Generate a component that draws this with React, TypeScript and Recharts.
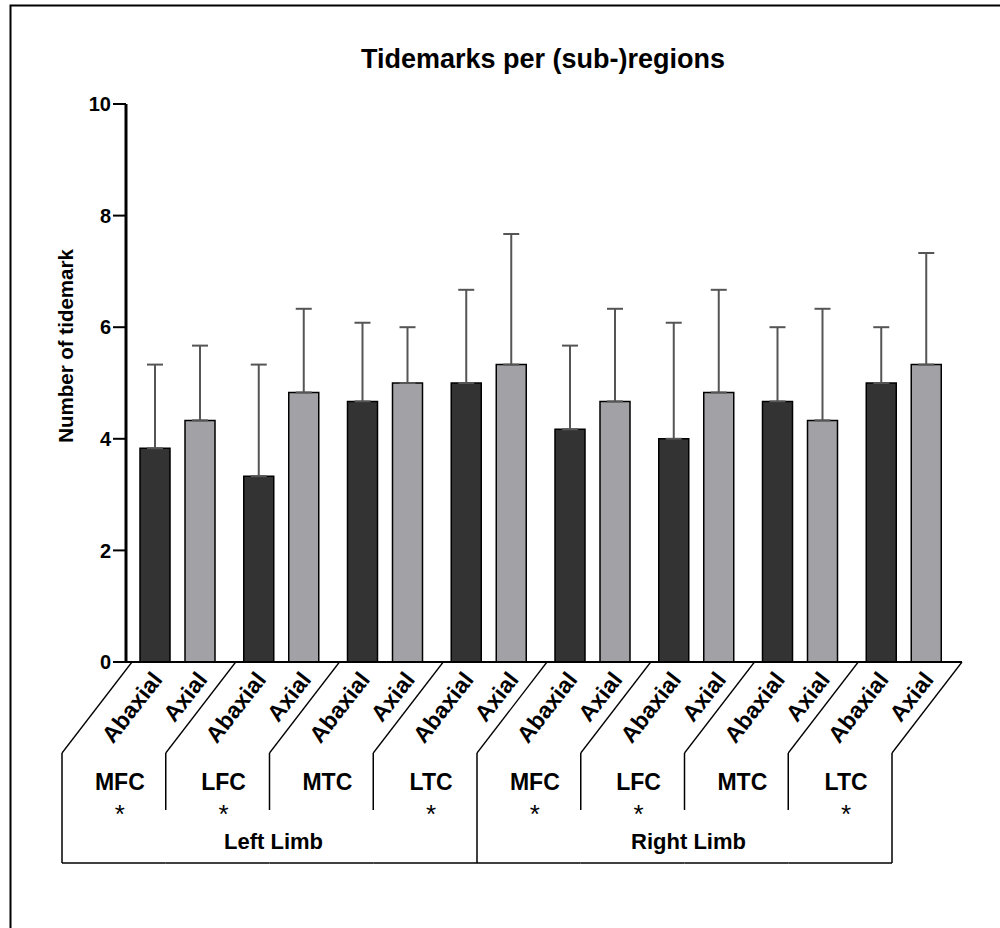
import { BarChart, Bar, XAxis, YAxis, ErrorBar } from "recharts";

// groups along the x axis (limb + region)
const groupKeys = ["L-MFC", "L-LFC", "L-MTC", "L-LTC", "R-MFC", "R-LFC", "R-MTC", "R-LTC"];
const regions = ["MFC", "LFC", "MTC", "LTC", "MFC", "LFC", "MTC", "LTC"];
const limbs = ["Left Limb", "Left Limb", "Left Limb", "Left Limb", "Right Limb", "Right Limb", "Right Limb", "Right Limb"];
const significant = [true, true, false, true, true, true, false, true];

// mean and SD (upper only) per group
const abaxialMean = [3.83, 3.33, 4.67, 5.0, 4.17, 4.0, 4.67, 5.0];
const abaxialSd = [1.5, 2.0, 1.41, 1.67, 1.5, 2.08, 1.33, 1.0];
const axialMean = [4.33, 4.83, 5.0, 5.33, 4.67, 4.83, 4.33, 5.33];
const axialSd = [1.34, 1.5, 1.0, 2.34, 1.66, 1.84, 2.0, 2.0];

const yTicks = [0, 2, 4, 6, 8, 10];

const data = groupKeys.map((key, i) => ({
  key,
  region: regions[i],
  limb: limbs[i],
  sig: significant[i],
  abaxial: abaxialMean[i],
  abaxialErr: [0, abaxialSd[i]],
  axial: axialMean[i],
  axialErr: [0, axialSd[i]],
}));

const W = 1000;
const H = 928;
const MARGIN = { top: 104, right: 44, bottom: 0, left: 46 };
const Y_W = 80;
const BAND = (W - MARGIN.left - MARGIN.right - Y_W) / data.length;
const FONT = "'Liberation Sans', Arial, sans-serif";

function GroupTick(props: any) {
  const { x, y, payload } = props;
  const i = payload.index;
  const d = data[i];
  const left = x - BAND / 2 + 6;
  const right = x + BAND / 2 + 6;
  const dx = 70;
  const dy = 91;
  const boxBottom = y + 201;
  const isLimbStart = i % 4 === 0;
  const isLast = i === data.length - 1;
  const abX = x - 22.5 + 8;
  const axX = x + 22.5 + 8;
  return (
    <g fontFamily={FONT} fontWeight="bold" fill="#000">
      <text x={abX} y={y + 18} fontSize={23} textAnchor="end" transform={`rotate(-52, ${abX}, ${y + 18})`}>
        Abaxial
      </text>
      <text x={axX} y={y + 18} fontSize={23} textAnchor="end" transform={`rotate(-52, ${axX}, ${y + 18})`}>
        Axial
      </text>
      <line x1={left} y1={y} x2={left - dx} y2={y + dy} stroke="#000" strokeWidth={1.3} />
      <line x1={left - dx} y1={y + dy} x2={left - dx} y2={isLimbStart ? boxBottom : y + 148} stroke="#000" strokeWidth={1.5} />
      <line x1={left - dx} y1={boxBottom} x2={right - dx} y2={boxBottom} stroke="#000" strokeWidth={1.5} />
      {isLast && (
        <>
          <line x1={x + BAND / 2 - 4} y1={y} x2={right} y2={y} stroke="#000" strokeWidth={2} />
          <line x1={right} y1={y} x2={right - dx} y2={y + dy} stroke="#000" strokeWidth={1.3} />
          <line x1={right - dx} y1={y + dy} x2={right - dx} y2={boxBottom} stroke="#000" strokeWidth={1.5} />
        </>
      )}
      <text x={x - 58} y={y + 128} fontSize={23} textAnchor="middle">
        {d.region}
      </text>
      {d.sig && (
        <text x={x - 58} y={y + 161} fontSize={26} textAnchor="middle" fontWeight="normal">
          *
        </text>
      )}
      {isLimbStart && (
        <text x={x + 1.5 * BAND - 60} y={y + 187} fontSize={22} textAnchor="middle">
          {d.limb}
        </text>
      )}
    </g>
  );
}

export default function App() {
  return (
    <div style={{ position: "absolute", left: 0, top: 0, background: "#fff" }}>
      <BarChart width={W} height={H} data={data} margin={MARGIN} barSize={30} barGap={15}>
        <path d={`M10.5 ${H} L10.5 5.5 L${W} 5.5`} fill="none" stroke="#000" strokeWidth={2} />
        <text x={543} y={68} textAnchor="middle" fontFamily={FONT} fontWeight="bold" fontSize={27} fill="#000">
          Tidemarks per (sub-)regions
        </text>
        <text
          x={65}
          y={346}
          textAnchor="middle"
          dominantBaseline="central"
          transform="rotate(-90, 65, 346)"
          fontFamily={FONT}
          fontWeight="bold"
          fontSize={20.5}
          fill="#000"
        >
          Number of tidemark
        </text>
        <XAxis
          dataKey="key"
          interval={0}
          height={266}
          tickLine={false}
          tickSize={0}
          tickMargin={0}
          axisLine={{ stroke: "#000", strokeWidth: 2 }}
          tick={<GroupTick />}
        />
        <YAxis
          width={Y_W}
          domain={[0, 10]}
          ticks={yTicks}
          interval={0}
          tickSize={13}
          axisLine={{ stroke: "#000", strokeWidth: 3 }}
          tickLine={{ stroke: "#000", strokeWidth: 2 }}
          tick={{ fill: "#000", fontSize: 20, fontWeight: "bold", fontFamily: FONT }}
        />
        <Bar dataKey="abaxial" fill="#333333" stroke="#000" strokeWidth={1.5} isAnimationActive={false}>
          <ErrorBar dataKey="abaxialErr" width={8} stroke="#555" strokeWidth={2} direction="y" />
        </Bar>
        <Bar dataKey="axial" fill="#a2a2a6" stroke="#000" strokeWidth={1.5} isAnimationActive={false}>
          <ErrorBar dataKey="axialErr" width={8} stroke="#555" strokeWidth={2} direction="y" />
        </Bar>
      </BarChart>
    </div>
  );
}
